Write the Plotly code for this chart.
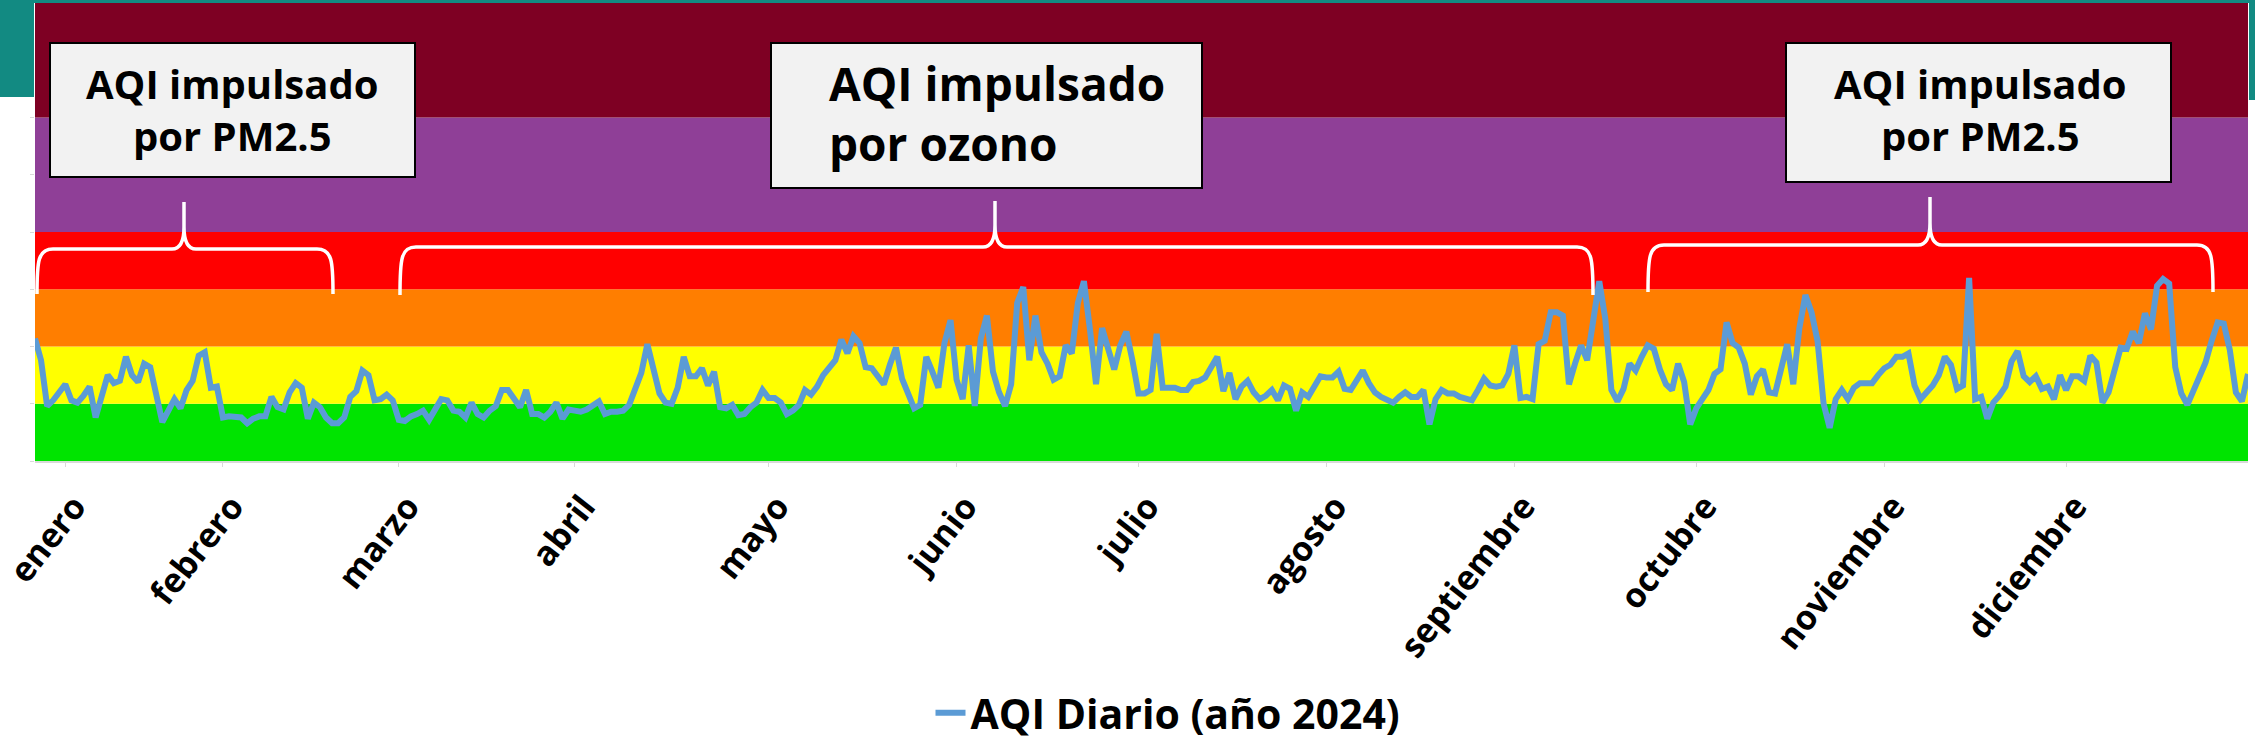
import plotly.graph_objects as go
import pandas as pd

# ---------------- data (daily AQI 2024) ----------------
aqi_ene = [107, 88, 48, 53, 60, 67, 53, 51, 57, 65, 38, 56, 75, 68, 70, 91, 75, 69, 85, 82,
           56, 34, 44, 54, 46, 62, 70, 92, 95, 64, 65]
aqi_feb = [38, 39, 39, 38, 33, 37, 39, 39, 56, 47, 45, 60, 68, 64, 37, 51, 47, 38, 33, 33,
           38, 56, 61, 79, 75, 53, 54, 58, 53]
aqi_mar = [36, 35, 39, 41, 44, 36, 45, 54, 53, 44, 43, 38, 51, 41, 38, 44, 48, 62, 62, 54,
           47, 62, 41, 41, 38, 43, 51, 37, 45, 44, 43]
aqi_abr = [45, 49, 52, 41, 43, 43, 44, 49, 63, 77, 102, 79, 59, 51, 50, 64, 91, 74, 74, 81,
           66, 78, 47, 46, 49, 40, 41, 47, 51, 62]
aqi_may = [55, 55, 51, 41, 44, 49, 62, 58, 65, 75, 82, 88, 106, 94, 109, 103, 82, 81, 74, 67,
           84, 99, 72, 59, 46, 49, 91, 78, 64, 103, 123]
aqi_jun = [71, 54, 101, 48, 107, 127, 78, 60, 48, 67, 138, 152, 88, 127, 95, 85, 71, 74, 101, 94,
           138, 157, 115, 67, 116, 96, 80, 101, 113, 88]
aqi_jul = [59, 59, 62, 111, 64, 64, 64, 62, 62, 69, 70, 73, 82, 91, 61, 77, 54, 65, 70, 60,
           54, 57, 62, 53, 66, 63, 44, 60, 56, 65, 74]
aqi_ago = [73, 73, 78, 63, 62, 71, 79, 68, 60, 56, 53, 51, 56, 60, 56, 56, 62, 32, 54, 62,
           59, 59, 56, 55, 53, 62, 72, 66, 65, 66, 76]
aqi_sep = [101, 55, 56, 54, 102, 105, 130, 130, 127, 67, 85, 101, 88, 121, 157, 124, 62, 52, 63, 85,
           79, 91, 101, 98, 80, 67, 62, 85, 69, 32]
aqi_oct = [46, 54, 62, 76, 80, 121, 103, 99, 85, 58, 74, 80, 60, 59, 80, 102, 67, 116, 145, 130,
           105, 50, 29, 54, 62, 54, 64, 68, 68, 68, 75]
aqi_nov = [81, 84, 91, 91, 94, 66, 54, 60, 66, 75, 91, 84, 63, 66, 160, 54, 56, 37, 51, 57,
           65, 87, 96, 74, 69, 74, 63, 65, 54, 75]
aqi_dic = [62, 74, 74, 70, 92, 86, 51, 60, 79, 99, 98, 113, 103, 129, 115, 153, 159, 155, 82, 59,
           49, 62, 76, 86, 105, 121, 120, 97, 60, 52, 76]

aqi = (aqi_ene + aqi_feb + aqi_mar + aqi_abr + aqi_may + aqi_jun +
       aqi_jul + aqi_ago + aqi_sep + aqi_oct + aqi_nov + aqi_dic)
dates = pd.date_range("2024-01-01", periods=len(aqi), freq="D")

month_labels = ["enero", "febrero", "marzo", "abril", "mayo", "junio", "julio",
                "agosto", "septiembre", "octubre", "noviembre", "diciembre"]
# label anchor dates as placed on the original chart's category axis
month_ticks = ["2024-01-06", "2024-02-01", "2024-03-01", "2024-03-30", "2024-05-01",
               "2024-06-01", "2024-07-01", "2024-08-01", "2024-09-01", "2024-10-01",
               "2024-11-01", "2024-12-01"]

band_bounds = [0, 50, 100, 150, 200, 300, 400]
band_colors = ["#00E400", "#FFFF00", "#FF7E00", "#FF0000", "#8F3F97", "#7E0023"]

series_name = "AQI Diario (año 2024)"
box_texts = ["AQI impulsado<br>por PM2.5", "AQI impulsado<br>por ozono", "AQI impulsado<br>por PM2.5"]

# ---------------- layout helpers ----------------
W, H = 2255, 753
ML, MR, MT, MB = 35, 7, 3, 292
PW, PH = W - ML - MR, H - MT - MB
FONT = "Open Sans"
TEAL = "#128A82"


def px(x):
    return (x - ML) / PW


def py(y):
    return 1 - (y - MT) / PH


fig = go.Figure()
fig.add_trace(go.Scatter(x=dates, y=aqi, mode="lines", name=series_name,
                         line=dict(color="#5B9BD5", width=6)))

shapes = []
# AQI category bands
for i, c in enumerate(band_colors):
    shapes.append(dict(type="rect", xref="paper", yref="y", x0=0, x1=1,
                       y0=band_bounds[i], y1=band_bounds[i + 1],
                       fillcolor=c, line=dict(width=0), layer="below"))

# slide header (teal) peeking around the chart
for (x0, x1, y0, y1) in [(0, 34, 0, 97), (0, W, 0, 3), (2249, W, 0, 100)]:
    shapes.append(dict(type="rect", xref="paper", yref="paper",
                       x0=px(x0), x1=px(x1), y0=py(y1), y1=py(y0),
                       fillcolor=TEAL, line=dict(width=0), layer="above"))

# braces (white curly brackets)
braces = [(37, 184, 333, 202, 249, 294),
          (400, 995, 1593, 201, 247, 295),
          (1648, 1930, 2213, 197, 245, 292)]
for (xl, xt, xr, yt, yh, yb) in braces:
    def P(x, y):
        return f"{px(x):.6f},{py(y):.6f}"
    path = (f"M {P(xl, yb)} C {P(xl, yh + 12)} {P(xl + 1, yh)} {P(xl + 16, yh)} "
            f"L {P(xt - 12, yh)} Q {P(xt, yh)} {P(xt, yh - 22)} L {P(xt, yt)} "
            f"M {P(xt, yh - 22)} Q {P(xt, yh)} {P(xt + 12, yh)} "
            f"L {P(xr - 16, yh)} C {P(xr - 1, yh)} {P(xr, yh + 12)} {P(xr, yb)}")
    shapes.append(dict(type="path", xref="paper", yref="paper", path=path,
                       line=dict(color="white", width=3.5), layer="above"))

# annotation boxes
boxes = [(50, 415, 43, 177), (771, 1202, 43, 188), (1786, 2171, 43, 182)]
for (x0, x1, y0, y1) in boxes:
    shapes.append(dict(type="rect", xref="paper", yref="paper",
                       x0=px(x0), x1=px(x1), y0=py(y1), y1=py(y0),
                       fillcolor="#F2F2F2", line=dict(color="black", width=2),
                       layer="above"))

annotations = [
    dict(text=box_texts[0], x=px(232), y=py(110), xanchor="center", yanchor="middle",
         align="center", font=dict(size=40, family=FONT, color="black", weight="bold")),
    dict(text=box_texts[1], x=px(827), y=py(113), xanchor="left", yanchor="middle",
         align="left", font=dict(size=46, family=FONT, color="black", weight="bold")),
    dict(text=box_texts[2], x=px(1980), y=py(110), xanchor="center", yanchor="middle",
         align="center", font=dict(size=40, family=FONT, color="black", weight="bold")),
]
for a in annotations:
    a.update(xref="paper", yref="paper", showarrow=False)

fig.update_layout(
    width=W, height=H,
    margin=dict(l=ML, r=MR, t=MT, b=MB, autoexpand=False),
    paper_bgcolor="white", plot_bgcolor="rgba(0,0,0,0)",
    shapes=shapes, annotations=annotations,
    showlegend=True,
    legend=dict(orientation="h", x=px(1168), xanchor="center", y=py(713), yanchor="middle",
                font=dict(size=41, family=FONT, color="black", weight="bold"),
                bgcolor="rgba(0,0,0,0)"),
    xaxis=dict(range=[dates[0], dates[-1]],
               tickvals=month_ticks, ticktext=month_labels,
               tickangle=-52, automargin=False, ticklabelshift=9, ticklabelstandoff=6,
               ticklabeloverflow="allow",
               tickfont=dict(size=34, family=FONT, color="black", weight="bold"),
               showgrid=False, zeroline=False, showline=True, linecolor="#D9D9D9",
               linewidth=2, ticks="outside", ticklen=4, tickcolor="#D9D9D9"),
    yaxis=dict(range=[0, 400], dtick=50, showticklabels=False, showgrid=False,
               automargin=False,
               zeroline=False, ticks="outside", ticklen=4, tickcolor="#D9D9D9"),
)

fig.write_html("out.html", config={"displayModeBar": False},
               post_script="document.body.style.margin='0px';")
